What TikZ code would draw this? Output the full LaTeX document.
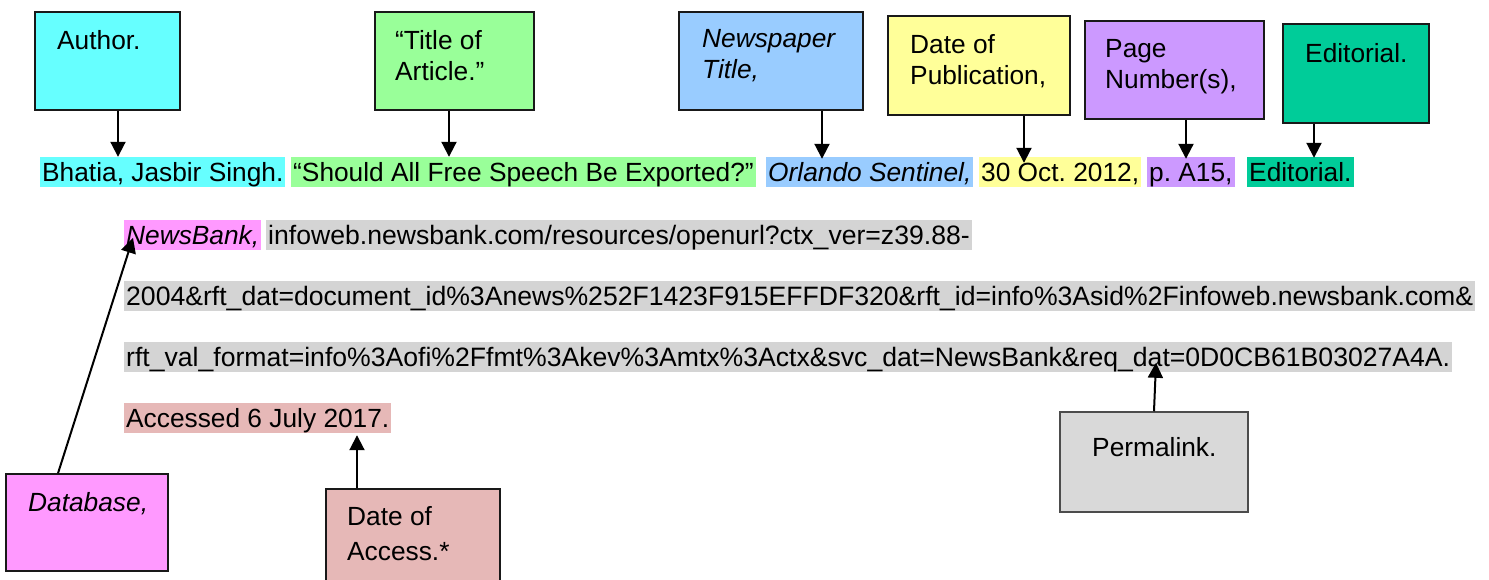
\documentclass[tikz,border=0pt]{standalone}
\usepackage{fontspec}
\setmainfont{Liberation Sans}
\usetikzlibrary{arrows.meta,fit,calc}
\definecolor{cAuthor}{HTML}{66FFFF}
\definecolor{cTitle}{HTML}{99FF99}
\definecolor{cPaper}{HTML}{99CCFF}
\definecolor{cDate}{HTML}{FFFF99}
\definecolor{cPage}{HTML}{CC99FF}
\definecolor{cEdit}{HTML}{00CC99}
\definecolor{cBase}{HTML}{FF99FF}
\definecolor{cAccess}{HTML}{E6B8B7}
\definecolor{cLink}{HTML}{D9D9D9}
\definecolor{cUrl}{HTML}{D4D4D4}
\begin{document}
\frenchspacing
\begin{tikzpicture}[x=1pt,y=-1pt,
  box/.style={draw=black!90,line width=1.5pt,inner sep=0pt},
  lbl/.style={anchor=north west,inner sep=0pt,align=left,font=\fontsize{26.3}{31}\selectfont},
  hl/.style={anchor=base west,inner xsep=2pt,inner ysep=0pt,text height=24pt,text depth=6pt,font=\fontsize{26.3}{31}\selectfont},
  urlhl/.style={hl,fill=cUrl,font=\fontsize{26.6}{31}\selectfont},
  arr/.style={line width=2pt,-{Triangle[length=15pt,width=15pt]}}]
\useasboundingbox (0,0) rectangle (1489,579);
\clip (0,0) rectangle (1489,579);
% boxes
\node[box,fill=cAuthor,fit={(35,12) (180,110)}] (author) {};
\node[box,fill=cTitle,fit={(375,12) (534,110)}] (title) {};
\node[box,fill=cPaper,fit={(679,12) (863,110)}] (paper) {};
\node[box,fill=cDate,fit={(888,16) (1070,115)}] (datepub) {};
\node[box,fill=cPage,fit={(1085,21) (1264,119)}] (page) {};
\node[box,fill=cEdit,fit={(1283,24) (1429,123)}] (edit) {};
\node[box,fill=cBase,fit={(6,474) (168,571)}] (database) {};
\node[box,fill=cAccess,fit={(326,489) (500,595)}] (access) {};
\node[box,fill=cLink,draw=black!70,fit={(1060,412) (1248,512)}] (permalink) {};
% box labels
\node[lbl] (authorT) at (57,30) {Author.};
\node[lbl] (titleT) at (395,30) {“Title of\\Article.”};
\node[lbl,font=\fontsize{26.3}{31}\selectfont\itshape] (paperT) at (702,29) {Newspaper\\Title,};
\node[lbl] (datepubT) at (910,34) {Date of\\Publication,};
\node[lbl] (pageT) at (1105,39) {Page\\Number(s),};
\node[lbl] (editT) at (1305,43) {Editorial.};
\node[lbl,font=\fontsize{26.3}{31}\selectfont\itshape] (databaseT) at (28,492) {Database,};
\node[lbl,font=\fontsize{26.3}{35}\selectfont] (accessT) at (347,506) {Date of\\Access.*};
\node[lbl] (permalinkT) at (1092,437) {Permalink.};
% citation text
\node[hl,fill=cAuthor] (bhatia) at (40,181) {Bhatia, Jasbir Singh.};
\node[hl,fill=cTitle] (should) at (291,181) {“Should All Free Speech Be Exported?”};
\node[hl,fill=cPaper,font=\fontsize{26.3}{31}\selectfont\itshape] (orlando) at (766,181) {Orlando Sentinel,};
\node[hl,fill=cDate] (oct) at (979,181) {30 Oct. 2012,};
\node[hl,fill=cPage] (pA) at (1147,181) {p. A15,};
\node[hl,fill=cEdit] (editorial) at (1247,181) {Editorial.};
\node[hl,fill=cBase,font=\fontsize{26.3}{31}\selectfont\itshape] (newsbank) at (124,244) {NewsBank,};
\node[urlhl] (url1) at (266,244) {infoweb.newsbank.com/resources/openurl?ctx\_ver=z39.88-};
\node[urlhl] (url2) at (124,305) {2004\&rft\_dat=document\_id\%3Anews\%252F1423F915EFFDF320\&rft\_id=info\%3Asid\%2Finfoweb.newsbank.com\&};
\node[urlhl] (url3) at (124,366) {rft\_val\_format=info\%3Aofi\%2Ffmt\%3Akev\%3Amtx\%3Actx\&svc\_dat=NewsBank\&req\_dat=0D0CB61B03027A4A.};
\node[hl,fill=cAccess] (accessed) at (124,427) {Accessed 6 July 2017.};
% arrows
\draw[arr] (118,0 |- author.south) -- (118,0 |- bhatia.north);
\draw[arr] (449,0 |- title.south) -- (449,0 |- should.north);
\draw[arr] (822,0 |- paper.south) -- ($(822,0 |- orlando.north)+(0,2)$);
\draw[arr] (1024,0 |- datepub.south) -- ($(1024,0 |- oct.north)+(0,6)$);
\draw[arr] (1186,0 |- page.south) -- ($(1186,0 |- pA.north)+(0,2)$);
\draw[arr] (1314,0 |- edit.south) -- ($(1314,0 |- editorial.north)+(0,1)$);
\draw[arr] (58,0 |- database.north) -- ($(newsbank.north west)+(9,18)$);
\draw[arr] (357,0 |- access.north) -- ($(357,0 |- accessed.south)+(0,2)$);
\draw[arr] (1154,0 |- permalink.north) -- ($(1156,0 |- url3.north)+(0,21)$);
\end{tikzpicture}
\end{document}
